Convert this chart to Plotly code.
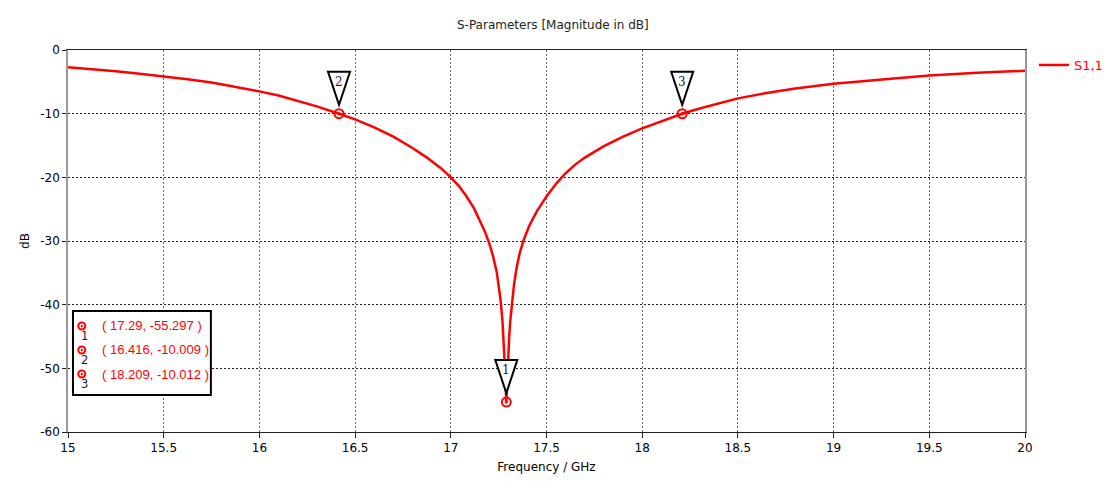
import plotly.graph_objects as go

# ---- data ----
freq_ghz = [15.0, 15.125, 15.25, 15.375, 15.5, 15.625, 15.75, 15.875, 16.0, 16.1, 16.2, 16.3,
            16.416, 16.5, 16.6, 16.7, 16.8, 16.875, 16.95, 17.0, 17.04, 17.08, 17.12, 17.15,
            17.175, 17.2, 17.22, 17.24, 17.25, 17.26, 17.27, 17.275, 17.28, 17.285, 17.29,
            17.295, 17.3, 17.305, 17.31, 17.32, 17.33, 17.345, 17.36, 17.38, 17.41, 17.45,
            17.5, 17.55, 17.6, 17.65, 17.7, 17.8, 17.9, 18.0, 18.1, 18.209, 18.3, 18.4,
            18.5, 18.65, 18.8, 19.0, 19.15, 19.33, 19.5, 19.75, 20.0]
s11_db = [-2.70, -3.00, -3.33, -3.72, -4.12, -4.58, -5.10, -5.75, -6.50, -7.15, -7.95, -8.85,
          -10.009, -10.90, -12.15, -13.60, -15.40, -16.90, -18.60, -20.00, -21.30, -22.90,
          -24.80, -26.60, -28.30, -30.30, -32.30, -34.90, -36.80, -39.30, -42.60, -44.90,
          -47.70, -51.20, -55.297,
          -51.00, -47.80, -45.10, -42.80, -39.40, -36.90, -34.00, -31.90, -29.90, -27.60,
          -25.30, -23.00, -21.00, -19.35, -18.00, -16.90, -15.10, -13.60, -12.30, -11.15,
          -10.012, -9.20, -8.35, -7.60, -6.75, -6.05, -5.30, -4.85, -4.42, -4.02, -3.58, -3.26]

marker_ids = ["1", "2", "3"]
marker_x = [17.29, 16.416, 18.209]
marker_y = [-55.297, -10.009, -10.012]
marker_labels = ["( 17.29, -55.297 )", "( 16.416, -10.009 )", "( 18.209, -10.012 )"]

x_ticks = [15, 15.5, 16, 16.5, 17, 17.5, 18, 18.5, 19, 19.5, 20]
y_ticks = [0, -10, -20, -30, -40, -50, -60]

FONT = "DejaVu Sans"
BOXFONT = "Liberation Sans"
RED = "#ff0000"

fig = go.Figure()
fig.add_trace(go.Scatter(
    x=freq_ghz, y=s11_db, mode="lines", name="S1,1",
    line=dict(color=RED, width=2.5, shape="linear"),
))
fig.add_trace(go.Scatter(
    x=marker_x, y=marker_y, mode="markers", showlegend=False,
    marker=dict(symbol="circle-open-dot", size=9, color=RED, line=dict(width=2, color=RED)),
))

shapes = []
annotations = []
# Triangular marker flags above each marker point
for mid, mx, my in zip(marker_ids, marker_x, marker_y):
    shapes.append(dict(
        type="path", xref="x", yref="y", xsizemode="pixel", ysizemode="pixel",
        xanchor=mx, yanchor=my, path="M-11,42 L11,42 L0,9 Z",
        line=dict(color="black", width=2), fillcolor="white", layer="above",
    ))
    annotations.append(dict(
        x=mx, y=my, xref="x", yref="y", text=mid, showarrow=False, yshift=32,
        font=dict(family="DejaVu Serif", size=12, color="#1a1a40"),
    ))

# Marker readout box (lower left)
shapes.append(dict(type="rect", xref="paper", yref="paper", x0=0.0052, x1=0.1493,
                   y0=0.0969, y1=0.3168, line=dict(color="black", width=2),
                   fillcolor="white", layer="above"))
row_y = [0.2775, 0.2147, 0.1518]
for mid, lab, ry in zip(marker_ids, marker_labels, row_y):
    shapes.append(dict(type="circle", xref="paper", yref="paper", xsizemode="pixel",
                       ysizemode="pixel", xanchor=0.0144, yanchor=ry,
                       x0=-3.5, x1=3.5, y0=-3.5, y1=3.5,
                       line=dict(color=RED, width=2), fillcolor="white", layer="above"))
    shapes.append(dict(type="circle", xref="paper", yref="paper", xsizemode="pixel",
                       ysizemode="pixel", xanchor=0.0144, yanchor=ry,
                       x0=-0.8, x1=0.8, y0=-0.8, y1=0.8,
                       line=dict(color=RED, width=1), fillcolor=RED, layer="above"))
    annotations.append(dict(x=0.033, y=ry, xref="paper", yref="paper", xanchor="left",
                            yanchor="middle", text=lab, showarrow=False,
                            font=dict(family=BOXFONT, size=13, color=RED)))
    annotations.append(dict(x=0.0175, y=ry, xref="paper", yref="paper", xanchor="center",
                            yanchor="middle", yshift=-10, text=mid, showarrow=False,
                            font=dict(family=FONT, size=11.5, color="#1a1a40")))

fig.update_layout(
    width=1112, height=481,
    margin=dict(l=60, r=81, t=42, b=57),
    paper_bgcolor="white", plot_bgcolor="white",
    font=dict(family=FONT, size=12, color="black"),
    title=dict(text="S-Parameters [Magnitude in dB]", x=0.49, xanchor="center",
               y=0.965, yanchor="middle", font=dict(family=FONT, size=12, color="#222")),
    showlegend=True,
    legend=dict(x=1.0093, xanchor="left", y=1.0, yanchor="top",
                font=dict(family=FONT, size=13, color=RED), bgcolor="rgba(0,0,0,0)"),
    shapes=shapes, annotations=annotations,
)
fig.update_xaxes(
    range=[15, 20], tickvals=x_ticks, ticktext=[f"{v:g}" for v in x_ticks],
    showgrid=True, gridcolor="#666", griddash="2px,2px", gridwidth=1,
    showline=True, linecolor="#222", linewidth=1, mirror=True,
    ticks="outside", ticklen=5, tickcolor="#222",
    zeroline=False, title=dict(text="Frequency / GHz", standoff=8,
                               font=dict(family=FONT, size=12)),
)
fig.update_yaxes(
    range=[-60, 0], tickvals=y_ticks, ticktext=[f"{v:g}" for v in y_ticks],
    showgrid=True, gridcolor="#222", griddash="2px,2px", gridwidth=1,
    showline=True, linecolor="#999", linewidth=1.5, mirror=True,
    ticks="outside", ticklen=4, tickcolor="#222",
    zeroline=False, title=dict(text="dB", standoff=8, font=dict(family=FONT, size=12)),
)

fig.write_html("out.html")
